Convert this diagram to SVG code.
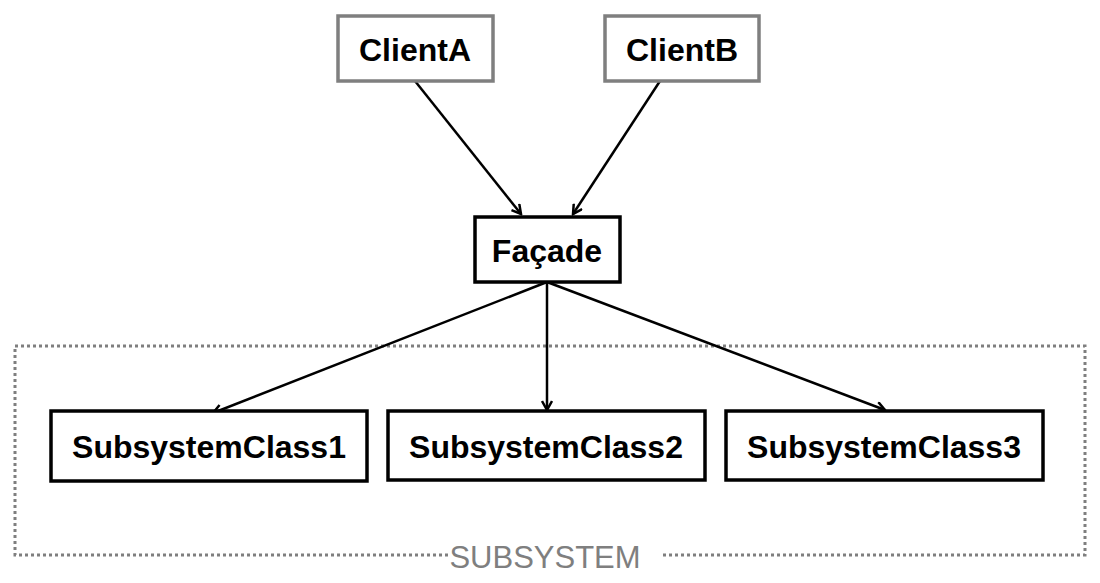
<svg xmlns="http://www.w3.org/2000/svg" width="1100" height="583" viewBox="0 0 1100 583">
<style>
.t{font-family:"Liberation Sans",Arial,sans-serif;font-weight:bold;font-size:32px;text-anchor:middle;fill:#000}
.g{fill:#fff;stroke:#7f7f7f;stroke-width:3.5}
.b{fill:#fff;stroke:#000;stroke-width:3.5}
.c{stroke:#000;stroke-width:2.5;fill:none;marker-end:url(#a)}
</style>
<defs><marker id="a" markerWidth="12" markerHeight="12" refX="10" refY="6" orient="auto" markerUnits="userSpaceOnUse"><path d="M1,1 L10,6 L1,11" fill="none" stroke="#000" stroke-width="2.5"/></marker></defs>
<rect width="1100" height="583" fill="#fff"/>
<g id="subsystem">
<path d="M448,555 H15 V346 H1085 V555 H660" fill="none" stroke="#7f7f7f" stroke-width="3" stroke-dasharray="3,3"/>
<text x="545" y="568" font-family="Liberation Sans,Arial,sans-serif" font-size="31" fill="#7f7f7f" text-anchor="middle">SUBSYSTEM</text>
</g>
<g id="connectors">
<line class="c" x1="415" y1="81" x2="521" y2="214"/>
<line class="c" x1="660" y1="81" x2="573" y2="214"/>
<line class="c" x1="547" y1="282" x2="213" y2="413"/>
<line class="c" x1="547" y1="282" x2="547" y2="410"/>
<line class="c" x1="547" y1="282" x2="885" y2="410"/>
</g>
<g id="clientA"><rect class="g" x="338" y="16" width="155" height="65"/><text class="t" x="415" y="61">ClientA</text></g>
<g id="clientB"><rect class="g" x="605" y="16" width="154" height="65"/><text class="t" x="682" y="61">ClientB</text></g>
<g id="facade"><rect class="b" x="475" y="217" width="145" height="65"/><text class="t" x="547" y="262">Façade</text></g>
<g id="sc1"><rect class="b" x="51" y="411" width="316" height="70"/><text class="t" x="209" y="458">SubsystemClass1</text></g>
<g id="sc2"><rect class="b" x="388" y="411" width="317" height="69"/><text class="t" x="546" y="458">SubsystemClass2</text></g>
<g id="sc3"><rect class="b" x="726" y="411" width="317" height="69"/><text class="t" x="884" y="458">SubsystemClass3</text></g>
</svg>
